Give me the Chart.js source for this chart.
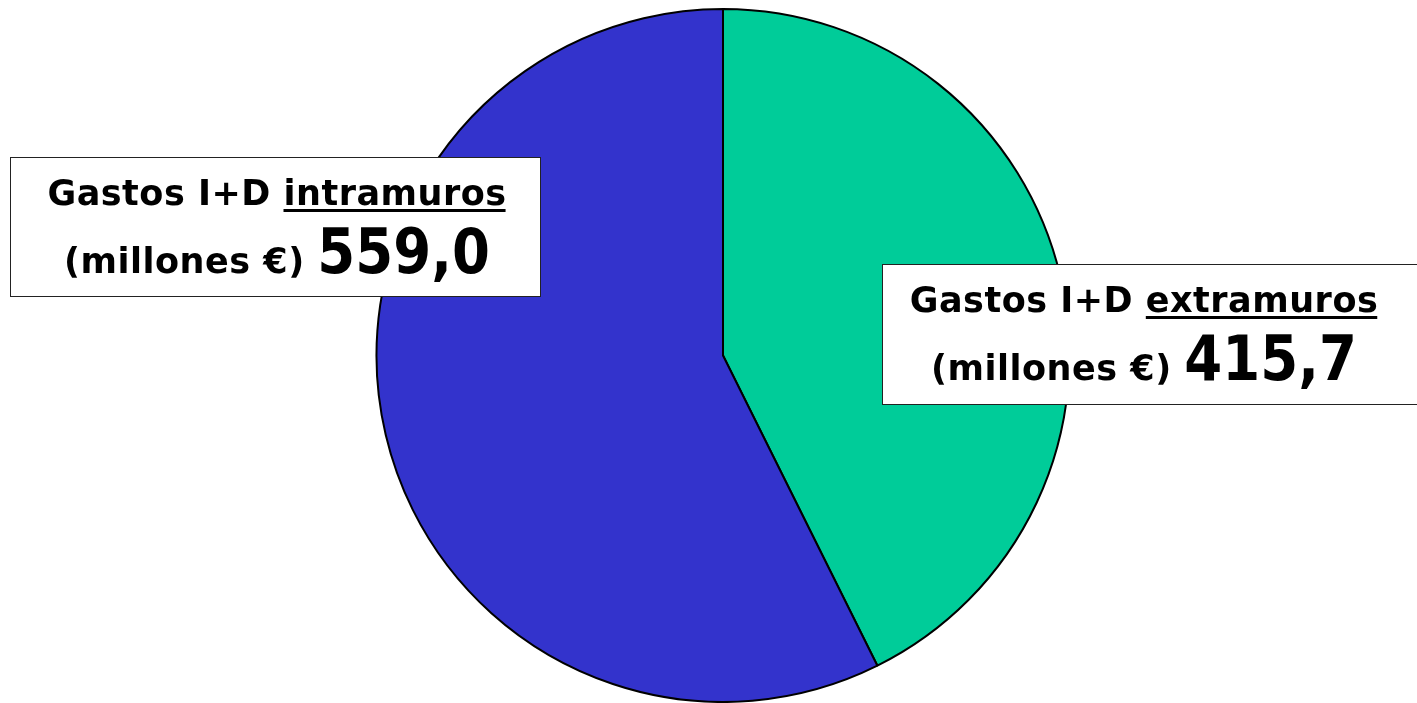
<!DOCTYPE html>
<html>
<head>
<meta charset="utf-8">
<script src="https://cdn.jsdelivr.net/npm/chart.js@4.4.1/dist/chart.umd.min.js"></script>
<style>
  html, body { margin: 0; padding: 0; background: #fff; }
  #wrap { width: 1417px; height: 703px; }
</style>
</head>
<body>
<div id="wrap"><canvas id="gastos"></canvas></div>
<script>
// Data
const categories = ["Gastos I+D extramuros", "Gastos I+D intramuros"];
const prefixes = ["Gastos I+D ", "Gastos I+D "];
const underlined = ["extramuros", "intramuros"];
const units = "(millones €) ";
const gastos = [415.7, 559.0];
const sliceColors = ["#00CC99", "#3333CC"];

// label boxes, placed around the pie
const labelBoxes = [
  { x: 882, y: 264, w: 540, h: 141, cx: 1144 },
  { x: 10, y: 157, w: 531, h: 140, cx: 277 }
];

const numScale = 0.88;

const boxLabels = {
  id: "boxLabels",
  afterDatasetsDraw(chart) {
    const ctx = chart.ctx;
    const data = chart.data.datasets[0].data;
    ctx.save();
    data.forEach((v, i) => {
      const b = labelBoxes[i];
      ctx.fillStyle = "#fff";
      ctx.fillRect(b.x, b.y, b.w, b.h);
      ctx.strokeStyle = "#222";
      ctx.lineWidth = 1;
      ctx.strokeRect(b.x + 0.5, b.y + 0.5, b.w - 1, b.h - 1);

      ctx.fillStyle = "#000";
      ctx.textBaseline = "alphabetic";
      ctx.textAlign = "left";
      ctx.letterSpacing = "0.5px";

      // first line: "Gastos I+D " + underlined word
      ctx.font = "bold 35px 'DejaVu Sans'";
      const w1 = ctx.measureText(prefixes[i]).width;
      const w2 = ctx.measureText(underlined[i]).width;
      let x = b.cx - (w1 + w2) / 2;
      const y1 = b.y + 48;
      ctx.fillText(prefixes[i], x, y1);
      ctx.fillText(underlined[i], x + w1, y1);
      ctx.fillRect(x + w1, y1 + 4, w2 - 1, 3);

      // second line: units + value
      const valTxt = v.toFixed(1).replace(".", ",");
      const w3 = ctx.measureText(units).width;
      ctx.font = "bold 62px 'DejaVu Sans'";
      ctx.letterSpacing = "0px";
      const w4 = ctx.measureText(valTxt).width * numScale;
      x = b.cx - (w3 + w4) / 2;
      const y2 = b.y + 116;
      ctx.letterSpacing = "0.5px";
      ctx.font = "bold 35px 'DejaVu Sans'";
      ctx.fillText(units, x, y2);
      ctx.letterSpacing = "0px";
      ctx.font = "bold 62px 'DejaVu Sans'";
      ctx.save();
      ctx.translate(x + w3, y2);
      ctx.scale(numScale, 1);
      ctx.fillText(valTxt, 0, 0);
      ctx.restore();
    });
    ctx.restore();
  }
};

new Chart(document.getElementById("gastos").getContext("2d"), {
  type: "pie",
  data: {
    labels: categories,
    datasets: [{
      data: gastos,
      backgroundColor: sliceColors,
      borderColor: "#000",
      borderWidth: 2,
      hoverOffset: 0
    }]
  },
  options: {
    responsive: true,
    maintainAspectRatio: false,
    animation: false,
    layout: { padding: { top: 8, bottom: 0, left: 29, right: 0 } },
    plugins: {
      legend: { display: false },
      tooltip: { enabled: false }
    }
  },
  plugins: [boxLabels]
});
</script>
</body>
</html>
